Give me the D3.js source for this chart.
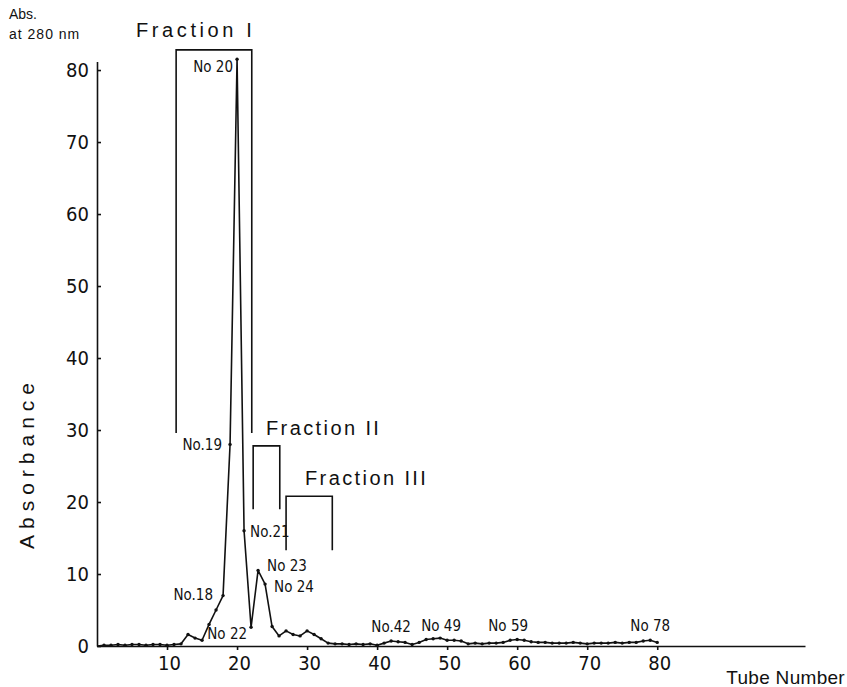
<!DOCTYPE html>
<html>
<head>
<meta charset="utf-8">
<script src="https://cdn.jsdelivr.net/npm/d3@7"></script>
<style>
  body { margin: 0; background: #fff; }
  svg text { fill: #111; }
  .narrow { font-family: "DejaVu Sans", sans-serif; font-stretch: condensed; }
  .plain { font-family: "Liberation Sans", Arial, sans-serif; }
</style>
</head>
<body>
<svg id="chart" width="847" height="687"></svg>
<script>
// tube numbers and absorbance at 280 nm
var tubes = d3.range(1, 81);
var absorbance = [
  0.1, 0.1, 0.2, 0.1, 0.2, 0.2, 0.1, 0.2, 0.2, 0.1,   // 1-10
  0.2, 0.3, 1.6, 1.1, 0.8, 3.0, 5.0, 7.0, 28, 81.5,   // 11-20
  16, 2.6, 10.5, 8.6, 2.7, 1.4, 2.1, 1.6, 1.4, 2.1,   // 21-30
  1.6, 1.0, 0.4, 0.3, 0.3, 0.2, 0.3, 0.2, 0.3, 0.1,   // 31-40
  0.4, 0.7, 0.6, 0.5, 0.2, 0.5, 0.9, 1.0, 1.1, 0.8,   // 41-50
  0.8, 0.7, 0.3, 0.4, 0.3, 0.4, 0.4, 0.5, 0.8, 0.9,   // 51-60
  0.8, 0.6, 0.5, 0.5, 0.4, 0.4, 0.4, 0.5, 0.4, 0.3,   // 61-70
  0.4, 0.4, 0.4, 0.5, 0.4, 0.5, 0.5, 0.7, 0.8, 0.5    // 71-80
];
var xTicks = [10, 20, 30, 40, 50, 60, 70, 80];
var yTicks = [0, 10, 20, 30, 40, 50, 60, 70, 80];

// labelled tubes
var labelTubes = [20, 19, 18, 22, 21, 23, 24, 42, 49, 59, 78];
var labelTexts = ["No 20", "No.19", "No.18", "No 22", "No.21", "No 23", "No 24", "No.42", "No 49", "No 59", "No 78"];

// pooled fractions: tube range and bracket top / leg end (absorbance units)
var fractionNames = ["Fraction I", "Fraction II", "Fraction III"];
var fractionFrom = [11.3, 22.3, 27.0];
var fractionTo = [22.1, 26.1, 33.6];
var fractionTop = [82.8, 27.8, 20.8];
var fractionLeg = [29.6, 19.0, 13.3];

var svg = d3.select("#chart");

var x = d3.scaleLinear().domain([0, 101.1]).range([97, 805]);
var y = d3.scaleLinear().domain([0, 81.2]).range([646, 61.4]);

var data = tubes.map(function(t, i) { return { tube: t, abs: absorbance[i] }; });

// axes
var xAxis = d3.axisBottom(x).tickValues(xTicks).tickSize(4).tickSizeOuter(0).tickPadding(6);
var gx = svg.append("g").attr("transform", "translate(0," + y(0) + ")").call(xAxis);
gx.selectAll("text").attr("class", "narrow").style("font-size", "20px").attr("dx", "2");

var yAxis = d3.axisLeft(y).tickValues(yTicks).tickSize(-4).tickSizeOuter(0).tickPadding(8);
var gy = svg.append("g").attr("transform", "translate(" + x(0) + ",0)").call(yAxis);
gy.selectAll("text").attr("class", "narrow").style("font-size", "20px");

svg.selectAll(".domain, .tick line").attr("stroke", "#111").attr("stroke-width", 1.6);
svg.selectAll(".tick text").attr("fill", "#111");

// elution curve
var line = d3.line()
    .x(function(d) { return x(d.tube); })
    .y(function(d) { return y(d.abs); });

svg.append("path")
    .datum([{ tube: 0, abs: 0 }].concat(data))
    .attr("d", line)
    .attr("fill", "none")
    .attr("stroke", "#111")
    .attr("stroke-width", 1.6)
    .attr("stroke-linejoin", "round");

svg.append("g").selectAll("circle")
    .data(data)
    .enter()
    .append("circle")
    .attr("cx", function(d) { return x(d.tube); })
    .attr("cy", function(d) { return y(d.abs); })
    .attr("r", 1.7)
    .attr("fill", "#111");

// fraction brackets
var fractionLabelPos = [[136, 37, 3.6], [266, 435, 2.4], [305, 485, 2.4]];
fractionNames.forEach(function(name, i) {
    var x0 = x(fractionFrom[i]), x1 = x(fractionTo[i]),
        top = y(fractionTop[i]), leg = y(fractionLeg[i]);
    svg.append("path")
        .attr("d", "M" + x0 + "," + leg + "V" + top + "H" + x1 + "V" + leg)
        .attr("fill", "none")
        .attr("stroke", "#111")
        .attr("stroke-width", 1.6);
    svg.append("text")
        .attr("class", "plain")
        .attr("x", fractionLabelPos[i][0])
        .attr("y", fractionLabelPos[i][1])
        .style("font-size", "20px")
        .style("letter-spacing", fractionLabelPos[i][2] + "px")
        .text(name);
});

// tube labels: offset from point [dx, dy, anchor]
var labelOffsets = {
    20: [-4, 8, "end"], 19: [-8, 1, "end"], 18: [-10, -1, "end"],
    22: [-4, 7, "end"], 21: [6, 1, "start"], 23: [9, -4, "start"],
    24: [9, 3, "start"], 42: [0, -14, "middle"], 49: [1, -12, "middle"],
    59: [-2, -14, "middle"], 78: [7, -15, "middle"]
};
labelTubes.forEach(function(t, i) {
    var o = labelOffsets[t];
    svg.append("text")
        .attr("class", "narrow")
        .attr("x", x(t) + o[0])
        .attr("y", y(absorbance[t - 1]) + o[1])
        .attr("dominant-baseline", "central")
        .attr("text-anchor", o[2])
        .style("font-size", "15px")
        .text(labelTexts[i]);
});

// titles
svg.append("text").attr("class", "plain").attr("x", 9).attr("y", 19)
    .style("font-size", "14px").text("Abs.");
svg.append("text").attr("class", "plain").attr("x", 9).attr("y", 39)
    .style("font-size", "14px").style("letter-spacing", "1px").text("at 280 nm");
svg.append("text").attr("class", "plain")
    .attr("transform", "translate(34,463) rotate(-90)")
    .attr("text-anchor", "middle")
    .style("font-size", "21px").style("letter-spacing", "6px")
    .text("Absorbance");
svg.append("text").attr("class", "plain").attr("x", 845).attr("y", 684)
    .attr("text-anchor", "end")
    .style("font-size", "19px").style("letter-spacing", "0.3px")
    .text("Tube Number");
</script>
</body>
</html>
